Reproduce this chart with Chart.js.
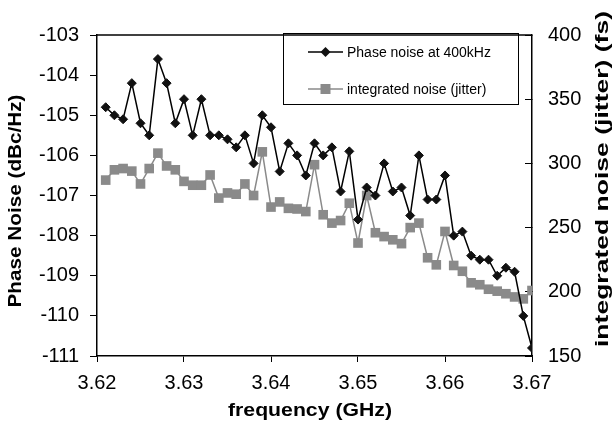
<!DOCTYPE html>
<html>
<head>
<meta charset="utf-8">
<script src="https://cdn.jsdelivr.net/npm/chart.js@4.4.1/dist/chart.umd.min.js"></script>
<style>
  body { margin: 0; background: #fff; }
  canvas { display: block; }
</style>
</head>
<body>
<canvas id="myChart" width="613" height="427"></canvas>
<script>
var freq = [3.621, 3.622, 3.623, 3.624, 3.625, 3.626, 3.627, 3.628, 3.629, 3.630,
            3.631, 3.632, 3.633, 3.634, 3.635, 3.636, 3.637, 3.638, 3.639, 3.640,
            3.641, 3.642, 3.643, 3.644, 3.645, 3.646, 3.647, 3.648, 3.649, 3.650,
            3.651, 3.652, 3.653, 3.654, 3.655, 3.656, 3.657, 3.658, 3.659, 3.660,
            3.661, 3.662, 3.663, 3.664, 3.665, 3.666, 3.667, 3.668, 3.669, 3.670];
var phaseNoise = [-104.8, -105.0, -105.1, -104.2, -105.2, -105.5, -103.6, -104.2, -105.2, -104.6,
                  -105.5, -104.6, -105.5, -105.5, -105.6, -105.8, -105.5, -106.2, -105.0, -105.3,
                  -106.4, -105.7, -106.0, -106.5, -105.7, -106.0, -105.8, -106.9, -105.9, -107.6,
                  -106.8, -107.0, -106.2, -106.9, -106.8, -107.5, -106.0, -107.1, -107.1, -106.5,
                  -108.0, -107.9, -108.5, -108.6, -108.6, -109.0, -108.8, -108.9, -110.0, -110.8];
var jitter = [287, 295, 296, 294, 284, 296, 308, 298, 295, 286,
              283, 283, 291, 273, 277, 276, 284, 275, 309, 266,
              270, 265, 264.5, 262.5, 299, 260, 253.5, 255.5, 269, 238,
              275, 246, 243, 240.5, 237.5, 250, 253.5, 226.5, 221, 247,
              220.5, 216, 207, 205.5, 202, 200.5, 198.5, 196, 194.5, 201];
var seriesNames = ["Phase noise at 400kHz", "integrated noise (jitter)"];
var xTicks = [3.62, 3.63, 3.64, 3.65, 3.66, 3.67];
var leftTicks = [-111, -110, -109, -108, -107, -106, -105, -104, -103];
var rightTicks = [150, 200, 250, 300, 350, 400];
var xTitle = "frequency (GHz)";
var leftTitle = "Phase Noise (dBc/Hz)";
var rightTitle = "integrated noise (jitter) (fs)";

var black = "#000000";
var gray = "#8a8a8a";

function pts(ys) {
  return freq.map(function (f, i) { return { x: f, y: ys[i] }; });
}

// draw text stretched along its own direction to a given length
function stretchText(ctx, text, x, y, rot, len) {
  ctx.save();
  ctx.translate(x, y);
  ctx.rotate(rot);
  var w = ctx.measureText(text).width;
  ctx.scale(len / w, 1);
  ctx.fillText(text, 0, 0);
  ctx.restore();
}

function marker(ctx, style, x, y, color) {
  ctx.fillStyle = color;
  ctx.beginPath();
  if (style === "rectRot") {
    ctx.moveTo(x - 5, y); ctx.lineTo(x, y - 5); ctx.lineTo(x + 5, y); ctx.lineTo(x, y + 5);
  } else {
    ctx.rect(x - 5, y - 5, 10, 10);
  }
  ctx.closePath();
  ctx.fill();
}

var extras = {
  id: "extras",
  afterDraw: function (chart) {
    var ctx = chart.ctx, a = chart.chartArea;
    ctx.save();
    ctx.strokeStyle = "#000";
    ctx.lineWidth = 1.5;
    ctx.beginPath();
    ctx.moveTo(a.left, a.top);
    ctx.lineTo(a.right, a.top);
    ctx.stroke();

    // axis titles
    ctx.fillStyle = "#000";
    ctx.font = "bold 19px 'Liberation Sans', Arial, sans-serif";
    ctx.textAlign = "center";
    ctx.textBaseline = "middle";
    stretchText(ctx, xTitle, 310, 411, 0, 164);
    stretchText(ctx, leftTitle, 16, 201, -Math.PI / 2, 213);
    stretchText(ctx, rightTitle, 603, 179, -Math.PI / 2, 336);

    // legend
    ctx.lineWidth = 1;
    ctx.strokeStyle = "#000";
    ctx.strokeRect(283.5, 33.5, 235, 71);
    ctx.font = "14px 'Liberation Sans', Arial, sans-serif";
    ctx.textAlign = "left";
    var rows = [52, 89];
    chart.data.datasets.forEach(function (ds, i) {
      var y = rows[i];
      ctx.strokeStyle = ds.borderColor;
      ctx.lineWidth = 1.5;
      ctx.beginPath();
      ctx.moveTo(308, y);
      ctx.lineTo(343, y);
      ctx.stroke();
      marker(ctx, ds.pointStyle, 325.5, y, ds.pointBackgroundColor);
      ctx.fillStyle = "#000";
      ctx.fillText(ds.label, 347, y + 1);
    });
    ctx.restore();
  }
};

new Chart("myChart", {
  type: "line",
  data: {
    datasets: [{
      label: seriesNames[0],
      data: pts(phaseNoise),
      yAxisID: "y",
      borderColor: black,
      borderWidth: 1.5,
      pointStyle: "rectRot",
      pointRadius: 4.5,
      pointBackgroundColor: "#111",
      pointBorderColor: "#111",
      pointBorderWidth: 1
    }, {
      label: seriesNames[1],
      data: pts(jitter),
      yAxisID: "y1",
      borderColor: gray,
      borderWidth: 1.5,
      pointStyle: "rect",
      pointRadius: 6.8,
      pointBackgroundColor: gray,
      pointBorderColor: gray,
      pointBorderWidth: 0
    }]
  },
  options: {
    responsive: false,
    animation: false,
    layout: { padding: { top: 15, left: 0, right: 0, bottom: 0 } },
    plugins: { legend: { display: false }, tooltip: { enabled: false } },
    scales: {
      x: {
        type: "linear",
        min: xTicks[0],
        max: xTicks[xTicks.length - 1],
        afterBuildTicks: function (s) { s.ticks = xTicks.map(function (v) { return { value: v }; }); },
        afterFit: function (s) { s.height = 71; },
        ticks: {
          color: "#000",
          font: { family: "'Liberation Sans', Arial, sans-serif", size: 20 },
          padding: 9,
          maxRotation: 0,
          callback: function (v) { return v.toFixed(2); }
        },
        grid: { drawOnChartArea: false, drawTicks: true, tickLength: 6, color: "#000" },
        border: { display: true, color: "#000", width: 1.5 }
      },
      y: {
        position: "left",
        min: leftTicks[0],
        max: leftTicks[leftTicks.length - 1],
        afterBuildTicks: function (s) { s.ticks = leftTicks.map(function (v) { return { value: v }; }); },
        afterFit: function (s) { s.width = 97; },
        ticks: {
          color: "#000",
          font: { family: "'Liberation Sans', Arial, sans-serif", size: 20 },
          padding: 11
        },
        grid: { drawOnChartArea: false, drawTicks: true, tickLength: 7, color: "#000" },
        border: { display: true, color: "#000", width: 1.5 }
      },
      y1: {
        position: "right",
        min: rightTicks[0],
        max: rightTicks[rightTicks.length - 1],
        afterBuildTicks: function (s) { s.ticks = rightTicks.map(function (v) { return { value: v }; }); },
        afterFit: function (s) { s.width = 81; },
        ticks: {
          color: "#000",
          font: { family: "'Liberation Sans', Arial, sans-serif", size: 20 },
          padding: 23
        },
        grid: { drawOnChartArea: false, drawTicks: true, tickLength: -7, color: "#000" },
        border: { display: true, color: "#000", width: 1.5 }
      }
    }
  },
  plugins: [extras]
});
</script>
</body>
</html>
